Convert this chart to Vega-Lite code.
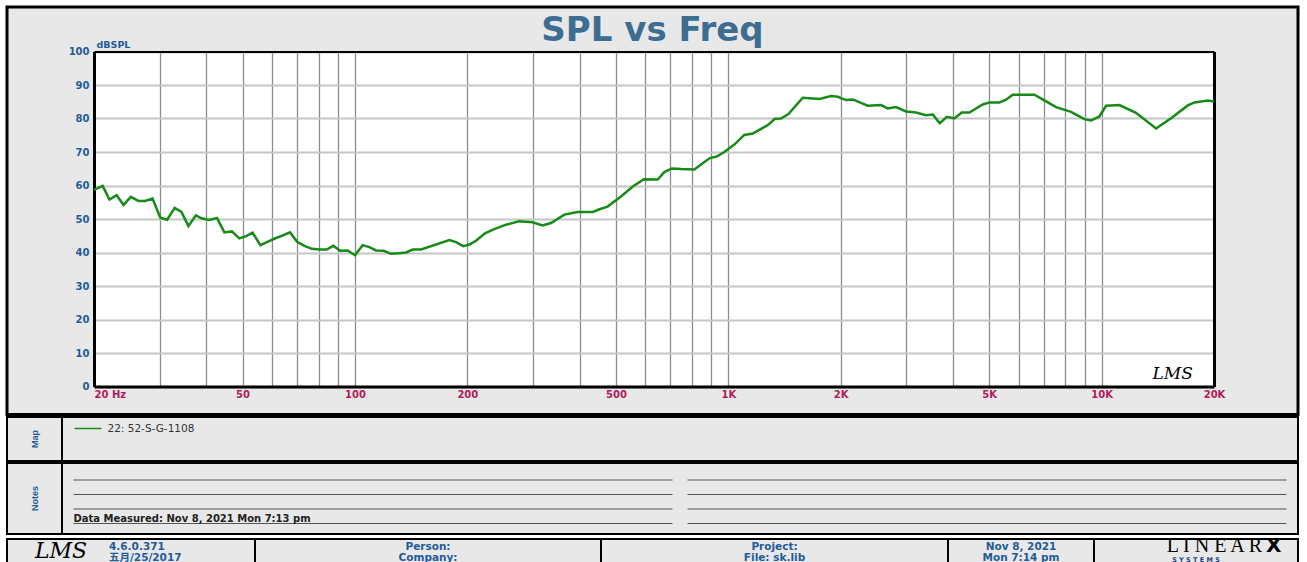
{
  "$schema": "https://vega.github.io/schema/vega-lite/v6.json",
  "background": "white",
  "padding": {"left": 5, "top": 5, "right": 0, "bottom": 0},
  "spacing": 0,
  "config": {
    "font": "DejaVu Sans",
    "view": {"fill": "#e8e8e8", "stroke": "#000000", "strokeWidth": 2},
    "style": {"view": {"fill": "#e8e8e8", "stroke": "#000000", "strokeWidth": 2}}
  },
  "vconcat": [
    {
      "width": 1291,
      "height": 407.5,
      "view": {"fill": "#e8e8e8", "stroke": "#000000", "strokeWidth": 3},
      "title": {"text": "SPL vs Freq", "frame": "group", "anchor": "middle", "orient": "top", "offset": -68, "baseline": "alphabetic", "font": "DejaVu Sans", "fontSize": 34, "fontWeight": "bold", "color": "#3d6e91"},
      "data": {"values": [
        {"f": 20, "v": 58.7, "series": "22: 52-S-G-1108"},
        {"f": 21.1, "v": 59.9, "series": "22: 52-S-G-1108"},
        {"f": 22, "v": 55.8, "series": "22: 52-S-G-1108"},
        {"f": 23, "v": 57.1, "series": "22: 52-S-G-1108"},
        {"f": 24, "v": 54.2, "series": "22: 52-S-G-1108"},
        {"f": 25.1, "v": 56.6, "series": "22: 52-S-G-1108"},
        {"f": 26.3, "v": 55.4, "series": "22: 52-S-G-1108"},
        {"f": 27.4, "v": 55.4, "series": "22: 52-S-G-1108"},
        {"f": 28.7, "v": 56.1, "series": "22: 52-S-G-1108"},
        {"f": 30.1, "v": 50.4, "series": "22: 52-S-G-1108"},
        {"f": 31.4, "v": 49.8, "series": "22: 52-S-G-1108"},
        {"f": 32.9, "v": 53.3, "series": "22: 52-S-G-1108"},
        {"f": 34.3, "v": 52.1, "series": "22: 52-S-G-1108"},
        {"f": 35.8, "v": 47.9, "series": "22: 52-S-G-1108"},
        {"f": 37.5, "v": 51.1, "series": "22: 52-S-G-1108"},
        {"f": 38.8, "v": 50.2, "series": "22: 52-S-G-1108"},
        {"f": 40.7, "v": 49.7, "series": "22: 52-S-G-1108"},
        {"f": 42.7, "v": 50.3, "series": "22: 52-S-G-1108"},
        {"f": 44.7, "v": 46.0, "series": "22: 52-S-G-1108"},
        {"f": 46.8, "v": 46.3, "series": "22: 52-S-G-1108"},
        {"f": 49, "v": 44.2, "series": "22: 52-S-G-1108"},
        {"f": 51.1, "v": 44.9, "series": "22: 52-S-G-1108"},
        {"f": 53.2, "v": 45.9, "series": "22: 52-S-G-1108"},
        {"f": 55.8, "v": 42.2, "series": "22: 52-S-G-1108"},
        {"f": 58.1, "v": 43.1, "series": "22: 52-S-G-1108"},
        {"f": 60.8, "v": 44.1, "series": "22: 52-S-G-1108"},
        {"f": 64.1, "v": 45.1, "series": "22: 52-S-G-1108"},
        {"f": 67, "v": 46.0, "series": "22: 52-S-G-1108"},
        {"f": 70, "v": 43.2, "series": "22: 52-S-G-1108"},
        {"f": 73.2, "v": 42.0, "series": "22: 52-S-G-1108"},
        {"f": 76.7, "v": 41.1, "series": "22: 52-S-G-1108"},
        {"f": 80.3, "v": 40.9, "series": "22: 52-S-G-1108"},
        {"f": 84, "v": 40.9, "series": "22: 52-S-G-1108"},
        {"f": 87.5, "v": 42.0, "series": "22: 52-S-G-1108"},
        {"f": 91.2, "v": 40.5, "series": "22: 52-S-G-1108"},
        {"f": 95.6, "v": 40.6, "series": "22: 52-S-G-1108"},
        {"f": 100, "v": 39.2, "series": "22: 52-S-G-1108"},
        {"f": 104.9, "v": 42.2, "series": "22: 52-S-G-1108"},
        {"f": 109.3, "v": 41.6, "series": "22: 52-S-G-1108"},
        {"f": 113.9, "v": 40.6, "series": "22: 52-S-G-1108"},
        {"f": 119.4, "v": 40.5, "series": "22: 52-S-G-1108"},
        {"f": 124.9, "v": 39.6, "series": "22: 52-S-G-1108"},
        {"f": 131, "v": 39.8, "series": "22: 52-S-G-1108"},
        {"f": 137, "v": 40.0, "series": "22: 52-S-G-1108"},
        {"f": 142.8, "v": 40.9, "series": "22: 52-S-G-1108"},
        {"f": 150.3, "v": 40.9, "series": "22: 52-S-G-1108"},
        {"f": 179, "v": 43.7, "series": "22: 52-S-G-1108"},
        {"f": 186.5, "v": 43.1, "series": "22: 52-S-G-1108"},
        {"f": 195, "v": 41.9, "series": "22: 52-S-G-1108"},
        {"f": 202.5, "v": 42.4, "series": "22: 52-S-G-1108"},
        {"f": 211, "v": 43.5, "series": "22: 52-S-G-1108"},
        {"f": 223, "v": 45.7, "series": "22: 52-S-G-1108"},
        {"f": 236, "v": 47.0, "series": "22: 52-S-G-1108"},
        {"f": 254, "v": 48.3, "series": "22: 52-S-G-1108"},
        {"f": 275, "v": 49.3, "series": "22: 52-S-G-1108"},
        {"f": 299, "v": 49.0, "series": "22: 52-S-G-1108"},
        {"f": 318, "v": 48.1, "series": "22: 52-S-G-1108"},
        {"f": 335, "v": 48.8, "series": "22: 52-S-G-1108"},
        {"f": 364, "v": 51.3, "series": "22: 52-S-G-1108"},
        {"f": 395, "v": 52.1, "series": "22: 52-S-G-1108"},
        {"f": 434, "v": 52.1, "series": "22: 52-S-G-1108"},
        {"f": 452, "v": 52.9, "series": "22: 52-S-G-1108"},
        {"f": 475, "v": 53.7, "series": "22: 52-S-G-1108"},
        {"f": 516, "v": 56.7, "series": "22: 52-S-G-1108"},
        {"f": 555, "v": 59.7, "series": "22: 52-S-G-1108"},
        {"f": 594, "v": 61.9, "series": "22: 52-S-G-1108"},
        {"f": 647, "v": 61.8, "series": "22: 52-S-G-1108"},
        {"f": 674, "v": 64.0, "series": "22: 52-S-G-1108"},
        {"f": 706, "v": 65.1, "series": "22: 52-S-G-1108"},
        {"f": 747, "v": 64.9, "series": "22: 52-S-G-1108"},
        {"f": 811, "v": 64.8, "series": "22: 52-S-G-1108"},
        {"f": 890, "v": 68.1, "series": "22: 52-S-G-1108"},
        {"f": 933, "v": 68.7, "series": "22: 52-S-G-1108"},
        {"f": 976, "v": 70.0, "series": "22: 52-S-G-1108"},
        {"f": 1038, "v": 72.2, "series": "22: 52-S-G-1108"},
        {"f": 1104, "v": 75.1, "series": "22: 52-S-G-1108"},
        {"f": 1163, "v": 75.5, "series": "22: 52-S-G-1108"},
        {"f": 1275, "v": 78.0, "series": "22: 52-S-G-1108"},
        {"f": 1334, "v": 79.9, "series": "22: 52-S-G-1108"},
        {"f": 1384, "v": 80.0, "series": "22: 52-S-G-1108"},
        {"f": 1449, "v": 81.3, "series": "22: 52-S-G-1108"},
        {"f": 1583, "v": 86.2, "series": "22: 52-S-G-1108"},
        {"f": 1754, "v": 85.8, "series": "22: 52-S-G-1108"},
        {"f": 1885, "v": 86.7, "series": "22: 52-S-G-1108"},
        {"f": 1964, "v": 86.5, "series": "22: 52-S-G-1108"},
        {"f": 2067, "v": 85.5, "series": "22: 52-S-G-1108"},
        {"f": 2155, "v": 85.7, "series": "22: 52-S-G-1108"},
        {"f": 2364, "v": 83.8, "series": "22: 52-S-G-1108"},
        {"f": 2566, "v": 84.0, "series": "22: 52-S-G-1108"},
        {"f": 2674, "v": 83.0, "series": "22: 52-S-G-1108"},
        {"f": 2814, "v": 83.4, "series": "22: 52-S-G-1108"},
        {"f": 2994, "v": 82.1, "series": "22: 52-S-G-1108"},
        {"f": 3184, "v": 81.8, "series": "22: 52-S-G-1108"},
        {"f": 3386, "v": 81.0, "series": "22: 52-S-G-1108"},
        {"f": 3530, "v": 81.2, "series": "22: 52-S-G-1108"},
        {"f": 3685, "v": 78.6, "series": "22: 52-S-G-1108"},
        {"f": 3852, "v": 80.5, "series": "22: 52-S-G-1108"},
        {"f": 4031, "v": 80.0, "series": "22: 52-S-G-1108"},
        {"f": 4220, "v": 81.8, "series": "22: 52-S-G-1108"},
        {"f": 4424, "v": 81.8, "series": "22: 52-S-G-1108"},
        {"f": 4804, "v": 84.2, "series": "22: 52-S-G-1108"},
        {"f": 5006, "v": 84.8, "series": "22: 52-S-G-1108"},
        {"f": 5324, "v": 84.8, "series": "22: 52-S-G-1108"},
        {"f": 5546, "v": 85.6, "series": "22: 52-S-G-1108"},
        {"f": 5780, "v": 87.1, "series": "22: 52-S-G-1108"},
        {"f": 6606, "v": 87.1, "series": "22: 52-S-G-1108"},
        {"f": 7024, "v": 85.4, "series": "22: 52-S-G-1108"},
        {"f": 7551, "v": 83.4, "series": "22: 52-S-G-1108"},
        {"f": 8280, "v": 82.0, "series": "22: 52-S-G-1108"},
        {"f": 8991, "v": 79.8, "series": "22: 52-S-G-1108"},
        {"f": 9370, "v": 79.4, "series": "22: 52-S-G-1108"},
        {"f": 9864, "v": 80.6, "series": "22: 52-S-G-1108"},
        {"f": 10280, "v": 83.8, "series": "22: 52-S-G-1108"},
        {"f": 11158, "v": 84.0, "series": "22: 52-S-G-1108"},
        {"f": 12366, "v": 81.7, "series": "22: 52-S-G-1108"},
        {"f": 13992, "v": 77.0, "series": "22: 52-S-G-1108"},
        {"f": 15348, "v": 80.1, "series": "22: 52-S-G-1108"},
        {"f": 17016, "v": 83.9, "series": "22: 52-S-G-1108"},
        {"f": 17724, "v": 84.8, "series": "22: 52-S-G-1108"},
        {"f": 19240, "v": 85.4, "series": "22: 52-S-G-1108"},
        {"f": 20000, "v": 85.1, "series": "22: 52-S-G-1108"}
      ]},
      "layer": [
        {
          "mark": {"type": "line", "strokeWidth": 2.5},
          "encoding": {
            "x": {"field": "f", "type": "quantitative",
              "scale": {"type": "log", "domain": [20, 20000], "range": [87, 1207]},
              "axis": {"orient": "top", "offset": -44.5, "values": [632.456], "grid": true, "gridColor": "#ffffff", "gridOpacity": 1, "gridWidth": 1120, "gridCap": "butt", "ticks": false, "labels": false, "domain": true, "domainColor": "#000000", "domainWidth": 2, "title": null}},
            "y": {"field": "v", "type": "quantitative",
              "scale": {"domain": [0, 100], "range": [379.5, 44.5], "nice": false, "zero": false},
              "axis": {"orient": "right", "offset": -84, "grid": false, "ticks": false, "labels": false, "domain": true, "domainColor": "#000000", "domainWidth": 3, "title": null}},
            "color": {"field": "series", "type": "nominal", "scale": {"range": ["#178a17"]},
              "legend": {"orient": "none", "legendX": 66.5, "legendY": 407, "title": null, "symbolType": "stroke", "symbolSize": 729, "symbolStrokeWidth": 1.5, "labelFont": "DejaVu Sans", "labelFontSize": 10.5, "labelColor": "#333333", "labelOffset": 5, "padding": 0}}
          }
        },
        {
          "mark": {"type": "line", "strokeOpacity": 0},
          "encoding": {
            "x": {"field": "f", "type": "quantitative",
              "scale": {"type": "log", "domain": [20, 20000], "range": [87, 1207]},
              "axis": {"orient": "top", "offset": -44.5,
                "values": [20, 30, 40, 50, 60, 70, 80, 90, 100, 200, 300, 400, 500, 600, 700, 800, 900, 1000, 2000, 3000, 4000, 5000, 6000, 7000, 8000, 9000, 10000, 20000],
                "grid": true, "gridColor": "#8c8c8c", "gridOpacity": 1, "gridWidth": 1.3, "ticks": false, "labels": false, "domain": false, "title": null}},
            "y": {"field": "v", "type": "quantitative",
              "scale": {"domain": [0, 100], "range": [379.5, 44.5], "nice": false, "zero": false},
              "axis": {"orient": "left", "offset": -87, "values": [0, 10, 20, 30, 40, 50, 60, 70, 80, 90, 100],
                "grid": true, "gridColor": "#c6c6c6", "gridOpacity": 1, "gridWidth": 1.8, "ticks": false,
                "domain": true, "domainColor": "#000000", "domainWidth": 3,
                "labelPadding": 5, "labelFont": "DejaVu Sans", "labelFontWeight": "bold", "labelFontSize": 10, "labelColor": "#1f5c99", "labelOverlap": false,
                "title": "dBSPL", "titleAngle": 0, "titleAlign": "left", "titleBaseline": "alphabetic", "titleX": 2, "titleY": 40,
                "titleFont": "DejaVu Sans", "titleFontSize": 9.5, "titleFontWeight": "bold", "titleColor": "#1f5c99"}}
          }
        },
        {
          "mark": {"type": "line", "strokeOpacity": 0},
          "encoding": {
            "x": {"field": "f", "type": "quantitative",
              "scale": {"type": "log", "domain": [20, 20000], "range": [87, 1207]},
              "axis": {"orient": "bottom", "offset": -28,
                "values": [20, 50, 100, 200, 500, 1000, 2000, 5000, 10000, 20000],
                "grid": false, "ticks": false,
                "domain": true, "domainColor": "#000000", "domainWidth": 3,
                "labelExpr": "datum.value==20?'20  Hz':datum.value==1000?'1K':datum.value==2000?'2K':datum.value==5000?'5K':datum.value==10000?'10K':datum.value==20000?'20K':datum.label",
                "format": "d",
                "labelAlign": {"condition": {"test": "datum.value == 20", "value": "left"}, "value": "center"},
                "labelFlush": false, "labelOverlap": false, "labelBound": false, "labelPadding": 3,
                "labelFont": "DejaVu Sans", "labelFontWeight": "bold", "labelFontSize": 10, "labelColor": "#b3195d", "title": null}},
            "y": {"field": "v", "type": "quantitative",
              "scale": {"domain": [0, 100], "range": [379.5, 44.5], "nice": false, "zero": false},
              "axis": null}
          }
        },
        {
          "data": {"values": [{"logo": "LMS"}]},
          "mark": {"type": "text", "font": "DejaVu Serif", "fontStyle": "italic", "fontSize": 17, "color": "#000000"},
          "encoding": {
            "x": {"datum": 15500, "type": "quantitative", "scale": {"type": "log", "domain": [20, 20000], "range": [87, 1207]}, "axis": null},
            "y": {"datum": 3.6, "type": "quantitative", "scale": {"domain": [0, 100], "range": [379.5, 44.5], "nice": false, "zero": false}, "axis": null},
            "text": {"field": "logo"}
          }
        }
      ],
      "resolve": {"axis": {"x": "independent", "y": "independent"}}
    },
    {
      "hconcat": [
        {
          "width": 55, "height": 44,
          "data": {"values": [{"t": "Map"}]},
          "mark": {"type": "text", "angle": 270, "font": "Liberation Sans", "fontWeight": "bold", "fontSize": 9, "color": "#1f5c99"},
          "encoding": {"text": {"field": "t"}}
        },
        {
          "width": 1236, "height": 44,
          "data": {"values": [{"t": ""}]},
          "mark": {"type": "text"},
          "encoding": {"text": {"field": "t"}}
        }
      ],
      "spacing": 0,
      "bounds": "flush"
    },
    {
      "hconcat": [
        {
          "width": 55, "height": 71,
          "data": {"values": [{"t": "Notes"}]},
          "mark": {"type": "text", "angle": 270, "font": "Liberation Sans", "fontWeight": "bold", "fontSize": 9, "color": "#1f5c99"},
          "encoding": {"text": {"field": "t"}}
        },
        {
          "width": 1236, "height": 71,
          "data": {"values": [
            {"col": "L", "line": 1, "t": ""},
            {"col": "L", "line": 2, "t": ""},
            {"col": "L", "line": 3, "t": ""},
            {"col": "L", "line": 4, "t": "Data Measured: Nov  8, 2021  Mon  7:13 pm"},
            {"col": "R", "line": 1, "t": ""},
            {"col": "R", "line": 2, "t": ""},
            {"col": "R", "line": 3, "t": ""},
            {"col": "R", "line": 4, "t": ""}
          ]},
          "layer": [
            {
              "mark": {"type": "tick", "orient": "horizontal", "size": 599, "thickness": 1.2, "color": "#555555", "opacity": 1},
              "encoding": {
                "x": {"field": "col", "type": "nominal", "scale": {"type": "band", "domain": ["L", "R"], "paddingInner": 0.0244, "paddingOuter": 0.0187}, "axis": null},
                "y": {"field": "line", "type": "ordinal", "scale": {"type": "point", "domain": [1, 2, 3, 4], "range": [17, 60.5], "padding": 0}, "axis": null}
              }
            },
            {
              "transform": [{"filter": "datum.t != ''"}],
              "mark": {"type": "text", "align": "left", "baseline": "alphabetic", "dy": -1.5, "font": "DejaVu Sans", "fontWeight": "bold", "fontSize": 10, "color": "#222222"},
              "encoding": {
                "x": {"field": "col", "type": "nominal", "bandPosition": 0, "scale": {"type": "band", "domain": ["L", "R"], "paddingInner": 0.0244, "paddingOuter": 0.0187}, "axis": null},
                "y": {"field": "line", "type": "ordinal", "scale": {"type": "point", "domain": [1, 2, 3, 4], "range": [17, 60.5], "padding": 0}, "axis": null},
                "text": {"field": "t"}
              }
            }
          ]
        }
      ],
      "spacing": 0,
      "bounds": "flush"
    },
    {
      "hconcat": [
        {
          "width": 248, "height": 30,
          "data": {"values": [{"logo": "LMS", "ver": "4.6.0.371\n五月/25/2017"}]},
          "layer": [
            {
              "mark": {"type": "text", "font": "DejaVu Serif", "fontStyle": "italic", "fontSize": 22, "color": "#000000", "align": "center", "dx": -70, "dy": -3},
              "encoding": {"text": {"field": "logo"}}
            },
            {
              "mark": {"type": "text", "font": "DejaVu Sans, Noto Sans CJK SC", "fontWeight": "bold", "fontSize": 10.5, "lineHeight": 11, "lineBreak": "\n", "color": "#1f5c99", "align": "left", "dx": -22, "dy": -7.5},
              "encoding": {"text": {"field": "ver"}}
            }
          ]
        },
        {
          "width": 346, "height": 30,
          "data": {"values": [{"t": "Person:\nCompany:"}]},
          "mark": {"type": "text", "font": "DejaVu Sans", "fontWeight": "bold", "fontSize": 10.5, "lineHeight": 11, "lineBreak": "\n", "color": "#1f5c99", "dy": -7.5},
          "encoding": {"text": {"field": "t"}}
        },
        {
          "width": 347, "height": 30,
          "data": {"values": [{"t": "Project:\nFile: sk.lib"}]},
          "mark": {"type": "text", "font": "DejaVu Sans", "fontWeight": "bold", "fontSize": 10.5, "lineHeight": 11, "lineBreak": "\n", "color": "#1f5c99", "dy": -7.5},
          "encoding": {"text": {"field": "t"}}
        },
        {
          "width": 146, "height": 30,
          "data": {"values": [{"t": "Nov  8, 2021\nMon  7:14 pm"}]},
          "mark": {"type": "text", "font": "DejaVu Sans", "fontWeight": "bold", "fontSize": 10.5, "lineHeight": 11, "lineBreak": "\n", "color": "#1f5c99", "dy": -7.5},
          "encoding": {"text": {"field": "t"}}
        },
        {
          "width": 204, "height": 30,
          "data": {"values": [{"word": "L I N E A R", "x": "X", "sub": "S Y S T E M S"}]},
          "layer": [
            {
              "mark": {"type": "text", "font": "Liberation Serif", "fontSize": 20, "color": "#000000", "align": "right", "dx": 66, "dy": -8},
              "encoding": {"text": {"field": "word"}}
            },
            {
              "mark": {"type": "text", "font": "DejaVu Sans", "fontWeight": "bold", "fontSize": 20, "color": "#000000", "align": "left", "dx": 70, "dy": -8},
              "encoding": {"text": {"field": "x"}}
            },
            {
              "mark": {"type": "text", "font": "DejaVu Sans", "fontWeight": "bold", "fontSize": 6.5, "color": "#1f3f7a", "align": "center", "dx": 0, "dy": 6},
              "encoding": {"text": {"field": "sub"}}
            }
          ]
        }
      ],
      "spacing": 0,
      "bounds": "flush"
    }
  ]
}
